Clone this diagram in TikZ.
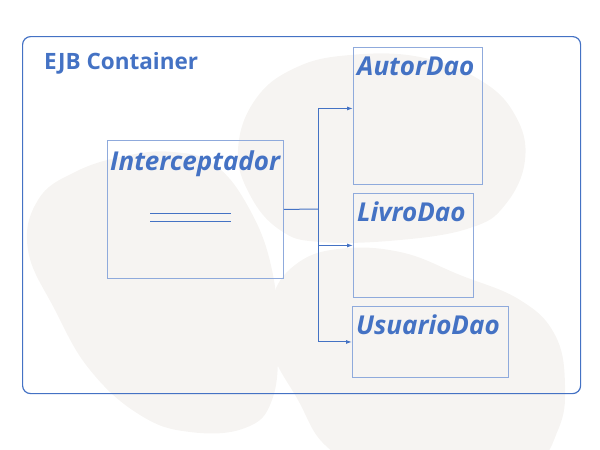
\documentclass[tikz,border=0pt]{standalone}
\usepackage{fontspec}
\setmainfont{Open Sans}
\usepackage{xcolor}
\usetikzlibrary{positioning,arrows.meta}
\definecolor{ejbblue}{HTML}{4472C4}
\definecolor{boxblue}{HTML}{8FAADC}
\definecolor{stain}{HTML}{F6F4F2}

\begin{document}
\begin{tikzpicture}[x=1pt, y=-1pt,
            container/.style={rectangle, rounded corners=8pt, draw=ejbblue, line width=1.2pt, anchor=north west, inner sep=0pt},
            classbox/.style={rectangle, draw=boxblue, line width=0.9pt, anchor=north west, inner sep=0pt},
            classname/.style={anchor=north west, inner xsep=4pt, inner ysep=0pt, text height=28pt, text depth=0pt, text=ejbblue, font=\fontsize{26}{30}\selectfont\bfseries\itshape},
            title/.style={anchor=north west, inner xsep=22pt, inner ysep=0pt, text height=33pt, text depth=0pt, text=ejbblue, font=\fontsize{22.5}{26}\selectfont\bfseries},
            link/.style={draw=ejbblue, line width=1pt},
            >={Latex[length=6pt, width=4pt]},
        ]
        \useasboundingbox (0,0) rectangle (600,450);
        % background stains
        \fill[stain] plot[smooth cycle, tension=0.7] coordinates {(238,150) (255,100) (295,68) (350,55) (420,57) (480,80) (515,115) (525,160) (505,205) (470,228) (400,240) (320,242) (280,230) (250,195)};
        \fill[stain] plot[smooth cycle, tension=0.7] coordinates {(173,152) (215,165) (250,210) (272,270) (278,340) (272,400) (245,428) (190,432) (140,415) (90,370) (55,310) (28,250) (38,200) (75,172) (125,156)};
        \fill[stain] plot[smooth cycle, tension=0.7] coordinates {(272,300) (295,265) (338,249) (400,252) (460,275) (520,300) (555,335) (565,385) (558,430) (530,465) (450,475) (370,468) (325,445) (298,400) (272,350)};
        \node[container, minimum width=558pt, minimum height=357pt, label={[title]north west:EJB Container}] (ejb) at (22,36) {};
        \node[classbox, minimum width=176pt, minimum height=138pt, label={[classname, inner xsep=3pt, text height=30pt]north west:Interceptador}] (intercept) at (107,140) {};
        \node[classbox, minimum width=129pt, minimum height=137pt, label={[classname]north west:AutorDao}]   (autor)   at (353,47)  {};
        \node[classbox, minimum width=120pt, minimum height=104pt, label={[classname]north west:LivroDao}]   (livro)   at (353,193) {};
        \node[classbox, minimum width=156pt, minimum height=71pt,  label={[classname]north west:UsuarioDao}] (usuario) at (352,306) {};
        \coordinate (fork) at (318,209);
        \draw[link] (150,213) -- (231,213);
        \draw[link] (150,221) -- (231,221);
        \draw[link] (intercept.east) -- (fork);
        \draw[link, ->] (fork) |- ([yshift=7.5pt]autor.west);
        \draw[link, ->] (fork) |- (livro.west);
        \draw[link, ->] (fork) |- (usuario.west);
    \end{tikzpicture}
\end{document}
